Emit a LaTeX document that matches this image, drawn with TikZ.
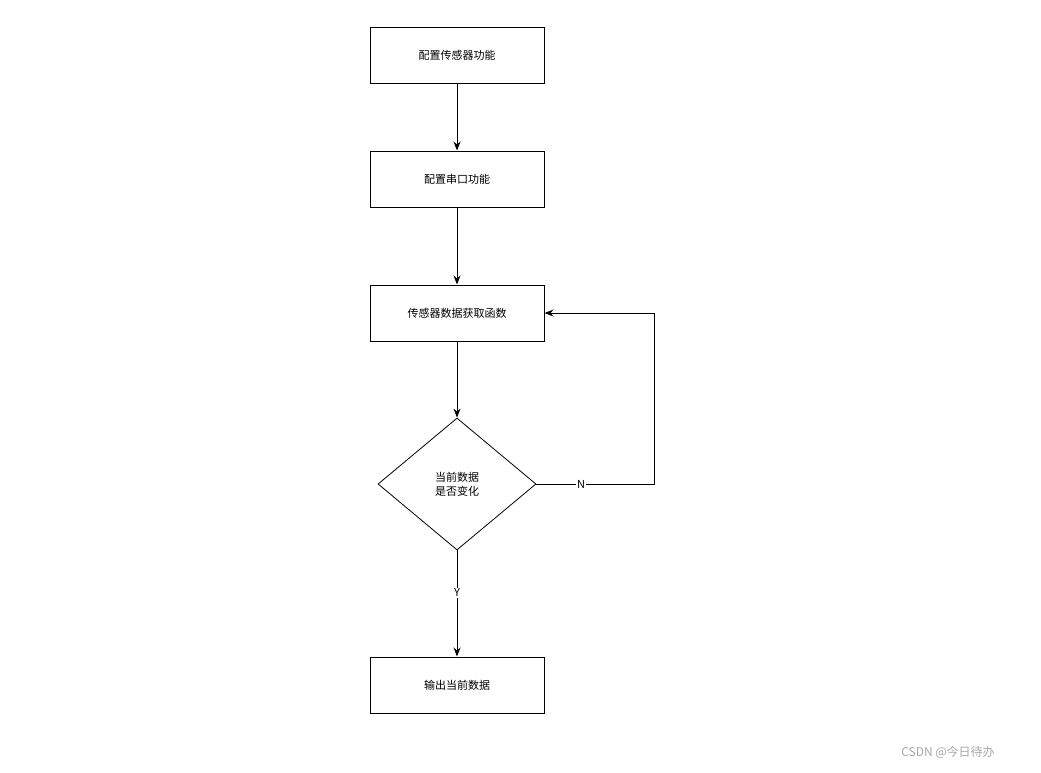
\documentclass[tikz,border=0pt]{standalone}
\usepackage{fontspec}
\setmainfont{Noto Sans CJK SC}
\usetikzlibrary{shapes.geometric,arrows.meta}
\begin{document}
\begin{tikzpicture}[x=1pt,y=-1pt,
  box/.style={draw,line width=1pt,minimum width=174pt,minimum height=56pt,inner sep=0pt,font=\fontsize{11}{14}\selectfont},
  dia/.style={draw,line width=0.8pt,diamond,minimum width=158pt,minimum height=132pt,inner sep=0pt,align=center,font=\fontsize{11}{14}\selectfont},
  arr/.style={line width=1pt,-{Stealth[length=9pt,width=7pt]}},
  lab/.style={fill=white,inner sep=1pt,font=\fontsize{11}{13}\selectfont}]
\useasboundingbox (0,0) rectangle (1041,772);
\node[box] (b1) at (457,55) {配置传感器功能};
\node[box] (b2) at (457,179) {配置串口功能};
\node[box] (b3) at (457,313) {传感器数据获取函数};
\node[dia] (d) at (457,484) {当前数据\\是否变化};
\node[box] (b4) at (457,685) {输出当前数据};
\coordinate (c1) at (654,484);
\coordinate (c2) at (654,313);
\draw[arr] (b1) -- (b2);
\draw[arr] (b2) -- (b3);
\draw[arr] (b3) -- (d);
\draw[arr] (d) -- node[lab,pos=0.4]{Y} (b4);
\draw[arr] (d.east) -- node[lab,pos=0.38]{N} (c1) -- (c2) -- (b3.east);
\node[text=gray!70,font=\fontsize{12}{14}\selectfont] (w) at (948,752) {CSDN @今日待办};
\end{tikzpicture}
\end{document}
